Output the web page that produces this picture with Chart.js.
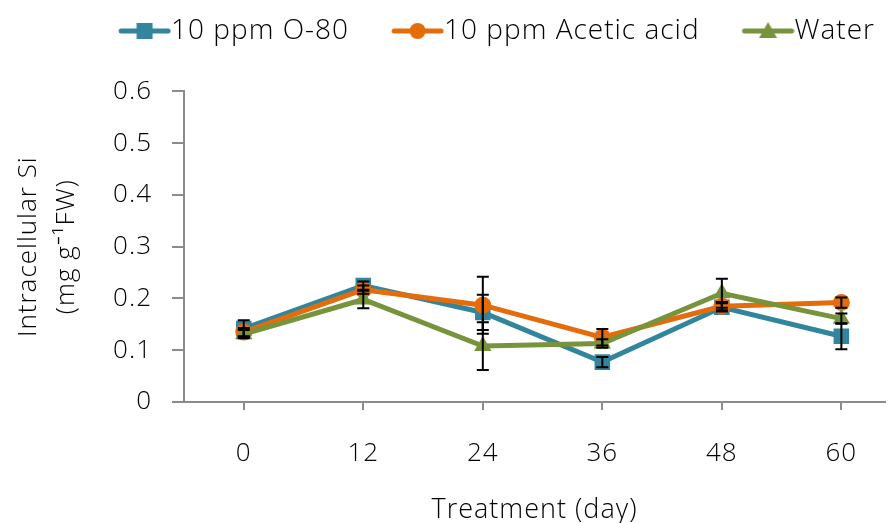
<!DOCTYPE html>
<html lang="en">
<head>
<meta charset="UTF-8">
<title>Intracellular Si</title>
<script src="https://cdn.jsdelivr.net/npm/chart.js"></script>
<style>
  html, body { margin: 0; padding: 0; background: #fff; }
  #wrap { width: 896px; height: 523px; }
</style>
</head>
<body>
<div id="wrap"><canvas id="myChart"></canvas></div>
<script>
// Data
const days = ['0', '12', '24', '36', '48', '60'];
const o80 = [0.142, 0.225, 0.173, 0.077, 0.183, 0.127];
const o80Err = [0.016, 0.008, 0.034, 0.01, 0.008, 0.025];
const acetic = [0.135, 0.217, 0.187, 0.125, 0.185, 0.192];
const aceticErr = [0.008, 0.008, 0.055, 0.016, 0.008, 0.01];
const water = [0.131, 0.198, 0.108, 0.113, 0.21, 0.161];
const waterErr = [0.008, 0.017, 0.046, 0.008, 0.028, 0.01];
const yTicks = [0, 0.1, 0.2, 0.3, 0.4, 0.5, 0.6];

const FONT = "'Open Sans', sans-serif";
const W = 300;
const blue = '#31859C', orange = '#E46C0A', green = '#77933C';

// legend glyph: line with marker, like Excel.
// box is 60 wide, first 24px left empty as spacing; line runs into the text gap
const BOX = 60, GAP = 14;
function legendGlyph(color, shape) {
  const c = document.createElement('canvas');
  c.width = BOX + 2 * GAP; c.height = 22;
  const g = c.getContext('2d');
  const x0 = GAP + 24, x1 = c.width - 3, mx = (x0 + x1) / 2;
  g.strokeStyle = color; g.lineWidth = 5; g.lineCap = 'round';
  g.beginPath(); g.moveTo(x0, 11); g.lineTo(x1, 11); g.stroke();
  g.fillStyle = color;
  if (shape === 'rect') g.fillRect(mx - 8, 3, 16, 16);
  else if (shape === 'circle') { g.beginPath(); g.arc(mx, 11, 8, 0, Math.PI * 2); g.fill(); }
  else { g.beginPath(); g.moveTo(mx, 2); g.lineTo(mx + 9, 18); g.lineTo(mx - 9, 18); g.closePath(); g.fill(); }
  return c;
}

function pts(arr) { return arr.map((v, i) => ({ x: i, y: v })); }

const spacing = {
  id: 'spacing',
  beforeLayout(chart) { chart.ctx.letterSpacing = '1px'; },
  beforeDraw(chart) { chart.ctx.letterSpacing = '1px'; }
};

const errorBars = {
  id: 'errorBars',
  afterDatasetsDraw(chart) {
    const { ctx, scales: { x, y } } = chart;
    const errs = [o80Err, aceticErr, waterErr];
    const vals = [o80, acetic, water];
    ctx.save();
    ctx.strokeStyle = '#000';
    ctx.lineWidth = 2;
    vals.forEach((arr, s) => {
      arr.forEach((v, i) => {
        const px = x.getPixelForValue(i);
        const top = y.getPixelForValue(v + errs[s][i]);
        const bot = y.getPixelForValue(v - errs[s][i]);
        ctx.beginPath();
        ctx.moveTo(px, top); ctx.lineTo(px, bot);
        ctx.moveTo(px - 6, top); ctx.lineTo(px + 6, top);
        ctx.moveTo(px - 6, bot); ctx.lineTo(px + 6, bot);
        ctx.stroke();
      });
    });
    ctx.restore();
  }
};

const config = {
  type: 'line',
  data: {
    datasets: [
      {
        label: '10 ppm O-80', data: pts(o80), order: 3,
        borderColor: blue, backgroundColor: blue, borderWidth: 5,
        pointStyle: 'rect', pointRadius: 11, pointBorderWidth: 0,
        legendGlyph: legendGlyph(blue, 'rect')
      },
      {
        label: '10 ppm Acetic acid', data: pts(acetic), order: 2,
        borderColor: orange, backgroundColor: orange, borderWidth: 5,
        pointStyle: 'circle', pointRadius: 8.5, pointBorderWidth: 0,
        legendGlyph: legendGlyph(orange, 'circle')
      },
      {
        label: 'Water', data: pts(water), order: 1,
        borderColor: green, backgroundColor: green, borderWidth: 5,
        pointStyle: 'triangle', pointRadius: 10, pointBorderWidth: 0,
        legendGlyph: legendGlyph(green, 'triangle')
      }
    ]
  },
  options: {
    responsive: false,
    animation: false,
    layout: { padding: { top: -4, right: 0, bottom: 0, left: 0 } },
    scales: {
      x: {
        type: 'linear', min: -0.5, max: 5.365,
        afterBuildTicks: s => { s.ticks = days.map((d, i) => ({ value: i })); },
        ticks: {
          callback: (v) => days[v],
          font: { family: FONT, size: 26, weight: W }, color: '#000', padding: 28,
          maxRotation: 0
        },
        grid: { drawOnChartArea: false, color: '#8c8c8c', tickLength: 8, lineWidth: 2 },
        border: { color: '#8c8c8c', width: 2 },
        title: {
          display: true, text: 'Treatment (day)',
          font: { family: FONT, size: 27, weight: W }, color: '#000', padding: { top: 31, bottom: -4 }
        },
        afterFit: s => { s.height = 121; }
      },
      y: {
        min: 0, max: 0.6,
        afterBuildTicks: s => { s.ticks = yTicks.map(v => ({ value: v })); },
        ticks: {
          callback: v => String(v),
          font: { family: FONT, size: 26, weight: W }, color: '#000', padding: 20
        },
        grid: { drawOnChartArea: false, color: '#8c8c8c', tickLength: 12, lineWidth: 2 },
        border: { color: '#8c8c8c', width: 2 },
        title: {
          display: true, text: ['Intracellular Si', '(mg g\u207B\u00B9FW)'],
          font: { family: FONT, size: 26, weight: W, lineHeight: 1.45 }, color: '#000',
          padding: { top: 10, bottom: 0 }
        },
        afterFit: s => { s.width = 184; }
      }
    },
    plugins: {
      legend: {
        position: 'top', align: 'end', weight: 3000,
        labels: {
          usePointStyle: true, pointStyleWidth: BOX,
          font: { family: FONT, size: 28, weight: W }, color: '#000', padding: 21,
          generateLabels: chart => chart.data.datasets.map((ds, i) => ({
            text: ds.label, pointStyle: ds.legendGlyph, datasetIndex: i,
            fillStyle: ds.borderColor, strokeStyle: ds.borderColor, lineWidth: 0
          }))
        }
      },
      // empty spacer between legend and plot
      subtitle: {
        display: true, text: ' ', weight: 500,
        font: { size: 2 }, padding: { top: 0, bottom: 34 }
      },
      tooltip: { enabled: false }
    }
  },
  plugins: [spacing, errorBars]
};

const canvas = document.getElementById('myChart');
canvas.width = 896; canvas.height = 523;
const myChart = new Chart(canvas.getContext('2d'), config);
</script>
</body>
</html>
